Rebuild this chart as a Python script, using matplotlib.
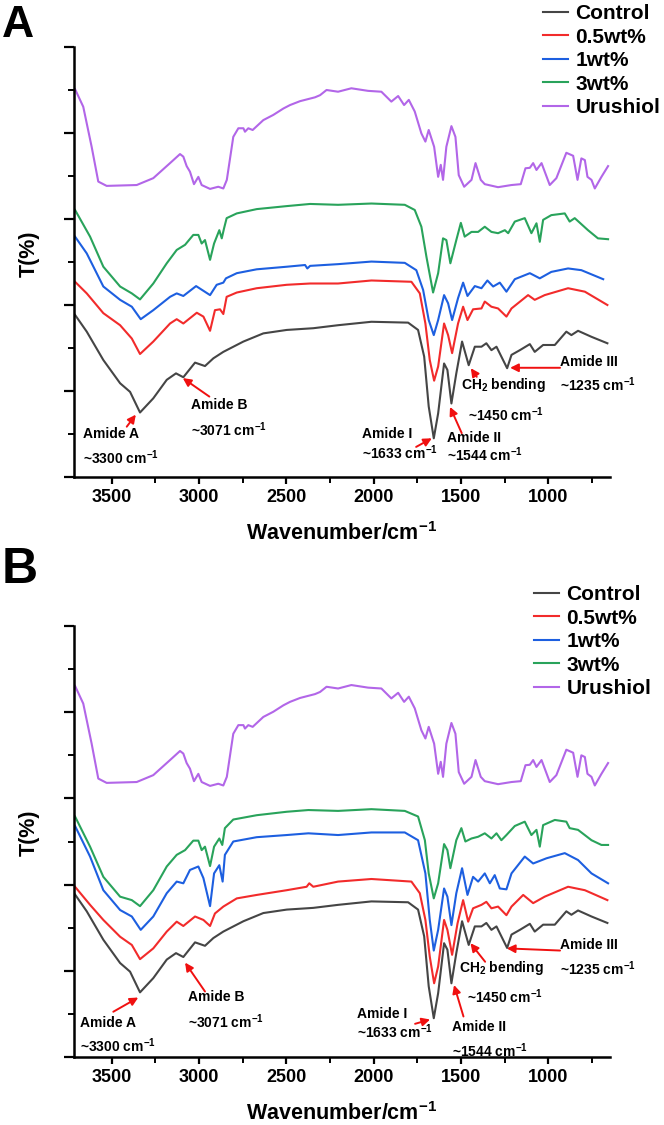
import matplotlib
matplotlib.use('Agg')
import matplotlib.pyplot as plt
from matplotlib.ticker import MultipleLocator, NullFormatter

plt.rcParams['font.family'] = ['Liberation Sans', 'DejaVu Sans']
plt.rcParams['font.weight'] = 'bold'
plt.rcParams['mathtext.fontset'] = 'custom'
plt.rcParams['mathtext.rm'] = 'Liberation Sans:bold'
plt.rcParams['mathtext.bf'] = 'Liberation Sans:bold'
plt.rcParams['mathtext.it'] = 'Liberation Sans:bold'

# ---------------- data (wavenumber cm-1, transmittance in arbitrary stacked units) -------------
series_names = ['Control', '0.5wt%', '1wt%', '3wt%', 'Urushiol']
series_colors = ['#454545', '#f22b2b', '#1d5fe0', '#29a35b', '#b266e8']

urushiol = [(3710, 9.02), (3663, 8.61), (3615, 7.68), (3577, 6.87), (3529, 6.77), (3357, 6.79),
            (3262, 6.95), (3166, 7.30), (3109, 7.51), (3090, 7.45), (3071, 7.23), (3052, 7.10),
            (3029, 6.81), (3004, 6.98), (2985, 6.79), (2937, 6.70), (2890, 6.75), (2861, 6.71),
            (2841, 6.91), (2804, 7.91), (2775, 8.11), (2746, 8.11), (2737, 8.03), (2718, 8.11),
            (2693, 8.07), (2632, 8.30), (2575, 8.42), (2517, 8.57), (2479, 8.65), (2422, 8.74),
            (2336, 8.83), (2307, 8.88), (2270, 9.00), (2204, 8.96), (2128, 9.04), (2032, 8.98),
            (1956, 8.96), (1899, 8.73), (1860, 8.86), (1826, 8.65), (1799, 8.77), (1765, 8.50),
            (1727, 7.99), (1704, 7.80), (1685, 8.07), (1654, 7.68), (1631, 6.98), (1616, 7.26),
            (1603, 6.91), (1584, 7.68), (1555, 8.16), (1532, 7.91), (1513, 7.02), (1482, 6.75),
            (1440, 6.91), (1417, 7.30), (1387, 6.91), (1364, 6.81), (1288, 6.74), (1211, 6.79),
            (1158, 6.81), (1131, 7.18), (1106, 7.19), (1087, 7.30), (1068, 7.14), (1039, 7.30),
            (992, 6.79), (954, 6.95), (897, 7.54), (858, 7.47), (833, 6.91), (811, 7.41),
            (791, 7.37), (776, 6.98), (753, 6.91), (734, 6.71), (696, 6.98), (658, 7.23)]

control = [(3710, 3.77), (3643, 3.38), (3548, 2.72), (3452, 2.18), (3395, 1.98), (3338, 1.50),
           (3262, 1.83), (3185, 2.26), (3132, 2.41), (3090, 2.32), (3023, 2.66), (2966, 2.58),
           (2918, 2.76), (2861, 2.91), (2746, 3.15), (2632, 3.34), (2498, 3.42), (2346, 3.46),
           (2204, 3.53), (2013, 3.61), (1803, 3.59), (1746, 3.42), (1711, 2.80), (1685, 1.64),
           (1656, 0.90), (1631, 1.48), (1597, 2.64), (1578, 2.49), (1555, 1.71), (1527, 2.41),
           (1494, 3.15), (1456, 2.60), (1421, 3.03), (1383, 3.03), (1355, 3.11), (1326, 2.95),
           (1297, 3.03), (1269, 2.80), (1236, 2.53), (1211, 2.84), (1163, 2.95), (1106, 3.09),
           (1078, 2.91), (1030, 3.07), (963, 3.07), (897, 3.38), (868, 3.30), (830, 3.40),
           (753, 3.26), (662, 3.11)]

a_wt05 = [(3710, 4.54), (3643, 4.27), (3548, 3.81), (3452, 3.53), (3385, 3.22), (3338, 2.86),
          (3262, 3.15), (3166, 3.57), (3128, 3.67), (3090, 3.57), (3013, 3.82), (2975, 3.73),
          (2937, 3.40), (2909, 3.88), (2880, 3.90), (2861, 3.79), (2842, 4.19), (2784, 4.29),
          (2670, 4.39), (2498, 4.47), (2364, 4.50), (2204, 4.50), (2013, 4.57), (1784, 4.54),
          (1736, 4.27), (1704, 3.57), (1679, 2.72), (1654, 2.24), (1631, 2.57), (1597, 3.57),
          (1574, 3.30), (1551, 2.88), (1517, 3.57), (1488, 3.96), (1463, 3.65), (1431, 3.90),
          (1383, 3.92), (1364, 4.08), (1326, 3.96), (1288, 3.92), (1240, 3.73), (1211, 3.92),
          (1116, 4.23), (1078, 4.12), (1021, 4.23), (887, 4.39), (791, 4.31), (662, 4.00)]

a_wt1 = [(3710, 5.59), (3643, 5.20), (3548, 4.43), (3452, 4.12), (3385, 3.96), (3334, 3.67),
         (3262, 3.88), (3166, 4.19), (3128, 4.27), (3090, 4.21), (3017, 4.44), (2975, 4.33),
         (2937, 4.23), (2899, 4.47), (2861, 4.52), (2846, 4.62), (2784, 4.74), (2670, 4.83),
         (2498, 4.89), (2393, 4.93), (2380, 4.85), (2364, 4.91), (2204, 4.95), (2013, 5.01),
         (1822, 4.98), (1756, 4.81), (1717, 4.35), (1685, 3.65), (1656, 3.30), (1631, 3.65),
         (1597, 4.23), (1574, 4.04), (1551, 3.65), (1517, 4.16), (1488, 4.52), (1463, 4.21),
         (1421, 4.44), (1383, 4.39), (1349, 4.57), (1316, 4.43), (1278, 4.52), (1240, 4.31),
         (1192, 4.60), (1106, 4.74), (1049, 4.62), (983, 4.77), (887, 4.85), (811, 4.81),
         (686, 4.60)]

a_wt3 = [(3710, 6.21), (3624, 5.59), (3548, 4.89), (3452, 4.43), (3385, 4.27), (3338, 4.13),
         (3262, 4.50), (3185, 4.97), (3128, 5.28), (3080, 5.40), (3033, 5.63), (3004, 5.63),
         (2985, 5.43), (2966, 5.51), (2937, 5.05), (2914, 5.43), (2884, 5.74), (2870, 5.55),
         (2857, 5.78), (2842, 6.02), (2784, 6.13), (2670, 6.23), (2498, 6.30), (2364, 6.35),
         (2204, 6.33), (2013, 6.36), (1822, 6.33), (1765, 6.21), (1727, 5.82), (1698, 5.12),
         (1660, 4.29), (1631, 4.74), (1603, 5.55), (1584, 5.51), (1561, 4.97), (1527, 5.51),
         (1501, 5.91), (1479, 5.59), (1440, 5.70), (1402, 5.70), (1364, 5.82), (1326, 5.70),
         (1288, 5.67), (1249, 5.74), (1230, 5.67), (1192, 5.94), (1135, 6.02), (1097, 5.67),
         (1068, 5.90), (1049, 5.47), (1030, 5.98), (983, 6.09), (906, 6.13), (878, 5.94),
         (849, 6.02), (773, 5.74), (716, 5.55), (658, 5.53)]

b_wt05 = [(3710, 3.95), (3624, 3.53), (3548, 3.18), (3452, 2.79), (3385, 2.60), (3338, 2.27),
          (3262, 2.52), (3185, 2.91), (3128, 3.14), (3090, 3.04), (3023, 3.26), (2975, 3.18),
          (2937, 3.04), (2909, 3.33), (2861, 3.49), (2784, 3.68), (2670, 3.76), (2498, 3.87),
          (2384, 3.95), (2369, 4.03), (2346, 3.95), (2204, 4.07), (2013, 4.13), (1784, 4.07),
          (1736, 3.80), (1704, 3.18), (1679, 2.33), (1654, 1.71), (1631, 2.10), (1597, 3.18),
          (1578, 2.95), (1551, 2.37), (1520, 3.10), (1488, 3.64), (1459, 3.14), (1431, 3.45),
          (1383, 3.53), (1355, 3.60), (1326, 3.45), (1288, 3.49), (1240, 3.29), (1211, 3.49),
          (1144, 3.76), (1087, 3.57), (1021, 3.72), (887, 3.95), (791, 3.87), (662, 3.64)]

b_wt1 = [(3710, 5.36), (3624, 4.65), (3548, 3.87), (3452, 3.41), (3385, 3.26), (3334, 2.95),
         (3262, 3.26), (3185, 3.80), (3128, 4.07), (3090, 4.03), (3052, 4.34), (3004, 4.42),
         (2975, 4.15), (2937, 3.50), (2914, 4.26), (2884, 4.45), (2865, 4.07), (2852, 4.69),
         (2804, 5.00), (2670, 5.10), (2498, 5.15), (2374, 5.19), (2204, 5.15), (2013, 5.21),
         (1822, 5.21), (1746, 5.03), (1704, 4.26), (1679, 3.18), (1656, 2.47), (1631, 2.95),
         (1597, 3.91), (1578, 3.72), (1555, 3.06), (1527, 3.80), (1494, 4.38), (1463, 3.76),
         (1431, 4.18), (1402, 4.07), (1364, 4.26), (1335, 4.03), (1307, 4.22), (1278, 3.91),
         (1240, 3.89), (1211, 4.26), (1135, 4.65), (1087, 4.49), (1011, 4.61), (906, 4.73),
         (830, 4.57), (753, 4.26), (658, 4.03)]

b_wt3 = [(3710, 5.58), (3624, 4.88), (3548, 4.18), (3452, 3.72), (3385, 3.64), (3338, 3.50),
         (3262, 3.87), (3185, 4.42), (3128, 4.69), (3080, 4.80), (3033, 5.02), (3004, 5.02),
         (2985, 4.80), (2966, 4.88), (2937, 4.43), (2914, 4.88), (2884, 5.07), (2867, 4.92),
         (2852, 5.31), (2804, 5.51), (2670, 5.61), (2498, 5.69), (2374, 5.73), (2204, 5.71),
         (2013, 5.75), (1822, 5.71), (1746, 5.58), (1707, 5.03), (1685, 4.26), (1656, 3.68),
         (1631, 4.03), (1597, 4.94), (1578, 4.80), (1561, 4.38), (1527, 5.03), (1498, 5.31),
         (1475, 5.00), (1440, 5.07), (1402, 5.11), (1364, 5.19), (1326, 5.07), (1297, 5.19),
         (1269, 5.03), (1240, 5.15), (1192, 5.36), (1135, 5.46), (1097, 5.15), (1068, 5.27),
         (1049, 4.88), (1030, 5.38), (963, 5.50), (897, 5.46), (878, 5.31), (830, 5.27),
         (753, 5.03), (696, 4.92), (658, 4.92)]

x_ticks = [3500, 3000, 2500, 2000, 1500, 1000]
x_label = 'Wavenumber/cm$^{-1}$'
y_label = 'T(%)'
annotation_labels = [('Amide A', '~3300 cm$^{-1}$'), ('Amide B', '~3071 cm$^{-1}$'),
                     ('Amide I', '~1633 cm$^{-1}$'), ('Amide II', '~1544 cm$^{-1}$'),
                     ('CH$_{2}$ bending', '~1450 cm$^{-1}$'), ('Amide III', '~1235 cm$^{-1}$')]

# vertical stacking offset of the urushiol trace in panel B (presentation only)
urushiol_offset_b = -0.41

# ---------------- layout -------------
W, H = 664, 1125
fig = plt.figure(figsize=(W / 100, H / 100), dpi=100)
axA = fig.add_axes([74 / W, 1 - 477 / H, 536 / W, 430 / H])
axB = fig.add_axes([74 / W, 1 - 1057 / H, 536 / W, 431 / H])


def unz(pairs, off=0.0):
    xs = [p[0] for p in pairs]
    ys = [p[1] + off for p in pairs]
    return xs, ys


def style_axes(ax):
    ax.set_xlim(3716, 647)
    ax.set_ylim(0, 10)
    for s in ['top', 'right']:
        ax.spines[s].set_visible(False)
    for s in ['left', 'bottom']:
        ax.spines[s].set_linewidth(1.8)
    ax.set_xticks(x_ticks)
    ax.xaxis.set_minor_locator(MultipleLocator(250))
    ax.yaxis.set_major_locator(MultipleLocator(2))
    ax.yaxis.set_minor_locator(MultipleLocator(1))
    ax.yaxis.set_major_formatter(NullFormatter())
    ax.tick_params(axis='x', which='major', length=5, width=1.6, labelsize=13, pad=4)
    ax.tick_params(axis='x', which='minor', length=4, width=1.4)
    ax.tick_params(axis='y', which='major', length=7, width=1.6)
    ax.tick_params(axis='y', which='minor', length=4, width=1.4)
    for lab in ax.get_xticklabels():
        lab.set_fontweight('bold')
    ax.set_xlabel(x_label, fontsize=15.5, fontweight='bold')
    ax.xaxis.set_label_coords(0.5, -0.105)
    ax.set_ylabel(y_label, fontsize=15.5, fontweight='bold')
    ax.yaxis.set_label_coords(-0.063, 0.52)


def draw(ax, traces, legend_anchor):
    lines = []
    for data, name, col in traces:
        xs, ys = data
        ln, = ax.plot(xs, ys, color=col, lw=1.5, label=name)
        lines.append(ln)
    ax.legend(handles=lines, loc='upper left', bbox_to_anchor=legend_anchor,
              bbox_transform=fig.transFigure, frameon=False,
              handlelength=1.2, handletextpad=0.35, labelspacing=0.22,
              borderpad=0, borderaxespad=0, prop={'weight': 'bold', 'size': 15})


def annotate(ax, specs):
    for (l1, l2), (tx, ty1, ty2, tx2), (tail, head) in zip(annotation_labels, specs['text'], specs['arrows']):
        ax.text(tx, ty1, l1, fontsize=10, fontweight='bold', ha='left', va='center')
        ax.text(tx2, ty2, l2, fontsize=10, fontweight='bold', ha='left', va='center')
        ax.annotate('', xy=head, xytext=tail,
                    arrowprops=dict(arrowstyle='-|>', color='#f01010', lw=1.4,
                                    mutation_scale=12, shrinkA=0, shrinkB=0))


style_axes(axA)
style_axes(axB)

draw(axA, [(unz(control), series_names[0], series_colors[0]),
           (unz(a_wt05), series_names[1], series_colors[1]),
           (unz(a_wt1), series_names[2], series_colors[2]),
           (unz(a_wt3), series_names[3], series_colors[3]),
           (unz(urushiol), series_names[4], series_colors[4])],
     (543 / W, 1 - 4 / H))
draw(axB, [(unz(control), series_names[0], series_colors[0]),
           (unz(b_wt05), series_names[1], series_colors[1]),
           (unz(b_wt1), series_names[2], series_colors[2]),
           (unz(b_wt3), series_names[3], series_colors[3]),
           (unz(urushiol, urushiol_offset_b), series_names[4], series_colors[4])],
     (534 / W, 1 - 585 / H))

annotate(axA, {
    'text': [(3666, 1.00, 0.44, 3666), (3045, 1.67, 1.09, 3045), (2067, 1.00, 0.56, 2067),
             (1580, 0.91, 0.51, 1580), (1500, 2.14, 1.44, 1460), (933, 2.68, 2.14, 933)],
    'arrows': [((3414, 1.17), (3362, 1.45)), ((2941, 1.87), (3093, 2.30)),
               ((1757, 0.70), (1667, 0.90)), ((1496, 1.02), (1563, 1.63)),
               ((1410, 2.33), (1444, 2.53)), ((933, 2.54), (1219, 2.54))]})
annotate(axB, {
    'text': [(3680, 0.80, 0.26, 3680), (3065, 1.40, 0.82, 3065), (2093, 1.00, 0.59, 2093),
             (1553, 0.70, 0.15, 1553), (1510, 2.06, 1.39, 1467), (933, 2.60, 2.06, 933)],
    'arrows': [((3491, 1.05), (3348, 1.38)), ((2966, 1.52), (3080, 2.19)),
               ((1763, 0.77), (1677, 0.87)), ((1486, 0.94), (1540, 1.67)),
               ((1362, 2.21), (1446, 2.64)), ((933, 2.47), (1238, 2.52))]})

fig.text(2 / W, 1 - 37 / H, 'A', fontsize=32, fontweight='bold', ha='left', va='baseline')
fig.text(2 / W, 1 - 583 / H, 'B', fontsize=36, fontweight='bold', ha='left', va='baseline')

fig.savefig('out.png', dpi=100)
